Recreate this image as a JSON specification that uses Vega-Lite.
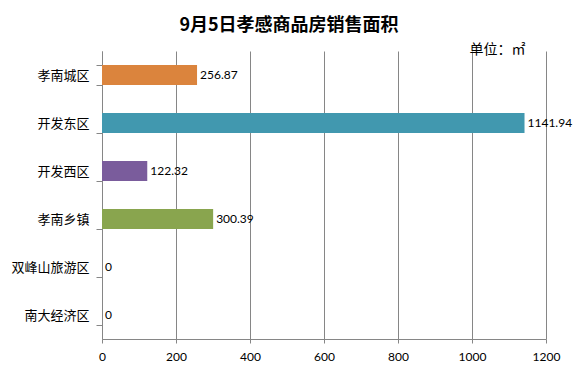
{
  "$schema": "https://vega.github.io/schema/vega-lite/v6.json",
  "width": 444,
  "height": 288,
  "autosize": {"type": "none"},
  "padding": {"left": 102, "top": 51, "right": 33, "bottom": 36},
  "background": "white",
  "title": {
    "text": "9月5日孝感商品房销售面积",
    "anchor": "middle",
    "dx": -35,
    "dy": 25,
    "fontSize": 18,
    "fontWeight": "bold",
    "font": "Noto Sans CJK SC",
    "color": "#000000",
    "baseline": "bottom",
    "offset": 14
  },
  "data": {
    "values": [
      {"区域": "孝南城区", "面积": 256.87, "标签": "256.87"},
      {"区域": "开发东区", "面积": 1141.94, "标签": "1141.94"},
      {"区域": "开发西区", "面积": 122.32, "标签": "122.32"},
      {"区域": "孝南乡镇", "面积": 300.39, "标签": "300.39"},
      {"区域": "双峰山旅游区", "面积": 0, "标签": "0"},
      {"区域": "南大经济区", "面积": 0, "标签": "0"}
    ]
  },
  "encoding": {
    "y": {
      "field": "区域",
      "type": "nominal",
      "sort": null,
      "scale": {"paddingInner": 0.583, "paddingOuter": 0.2915},
      "axis": {
        "title": null,
        "tickBand": "extent",
        "tickSize": 6,
        "tickColor": "#868686",
        "domainColor": "#868686",
        "labelFont": "Noto Sans CJK SC",
        "labelFontSize": 13,
        "labelColor": "#000000",
        "labelPadding": 7,
        "grid": false
      }
    },
    "x": {
      "field": "面积",
      "type": "quantitative",
      "scale": {"domain": [0, 1200], "nice": false},
      "axis": {
        "values": [0, 200, 400, 600, 800, 1000, 1200],
        "title": "单位：㎡",
        "titleX": 423,
        "titleY": -290,
        "titleAlign": "right",
        "titleAnchor": null,
        "titleBaseline": "middle",
        "titleFont": "Noto Sans CJK SC",
        "titleFontSize": 14,
        "titleFontWeight": "normal",
        "titleColor": "#000000",
        "grid": true,
        "gridColor": "#868686",
        "gridOpacity": 1,
        "tickSize": 4,
        "tickColor": "#868686",
        "domainColor": "#868686",
        "labelFont": "Lato",
        "labelFontSize": 12,
        "labelColor": "#000000",
        "labelPadding": 8,
        "labelFlush": false,
        "format": "d"
      }
    }
  },
  "layer": [
    {
      "mark": {"type": "bar"},
      "encoding": {
        "color": {
          "field": "区域",
          "type": "nominal",
          "legend": null,
          "scale": {
            "domain": ["孝南城区", "开发东区", "开发西区", "孝南乡镇", "双峰山旅游区", "南大经济区"],
            "range": ["#DB843D", "#4198AF", "#7A5C9C", "#89A54E", "#AA4643", "#4572A7"]
          }
        }
      }
    },
    {
      "mark": {"type": "text", "align": "left", "baseline": "middle", "dx": 3, "font": "Lato", "fontSize": 12, "color": "#000000"},
      "encoding": {
        "text": {"field": "标签", "type": "nominal"}
      }
    }
  ],
  "config": {
    "view": {"stroke": null}
  }
}
